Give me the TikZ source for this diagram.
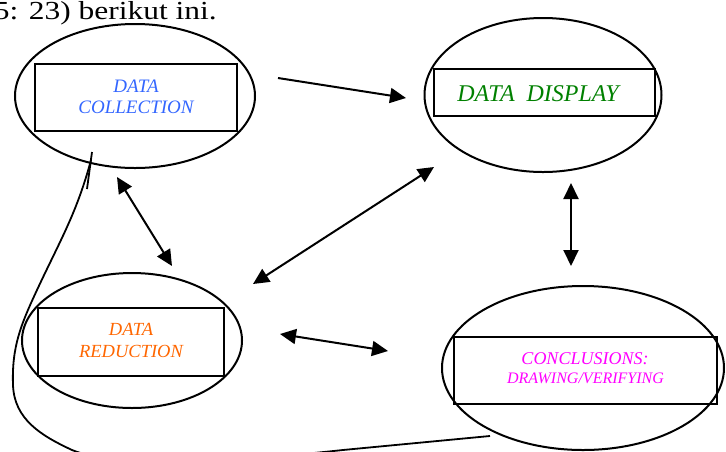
\documentclass[tikz,border=0pt]{standalone}
\usepackage{fontspec}
\setmainfont{Liberation Serif}
\usetikzlibrary{arrows.meta,shapes.geometric}
\definecolor{cblue}{RGB}{51,102,255}
\definecolor{cgreen}{RGB}{0,128,0}
\definecolor{corange}{RGB}{255,102,0}
\definecolor{cmag}{RGB}{255,0,255}
\tikzset{
  oval/.style={draw, ellipse, line width=2pt, inner sep=0pt},
  rbox/.style={draw, rectangle, line width=2.5pt, inner sep=0pt},
  conn/.style={line width=2pt, -{Triangle[length=16pt,width=15pt]}},
  dconn/.style={line width=2pt, {Triangle[length=16pt,width=15pt]}-{Triangle[length=16pt,width=15pt]}},
  lbl/.style={anchor=base, inner sep=0pt},
  loop/.style={line width=1.8pt}
}
\begin{document}
\begin{tikzpicture}[x=1pt,y=-1pt]
\useasboundingbox (0,0) rectangle (726,451);
\clip (0,0) rectangle (726,451);

% top text (cut at the left edge, as in the reference)
\node[anchor=base east, inner sep=0pt, font=\fontsize{26}{30}\selectfont] (cite) at (217,19) {\scalebox{1.21}[1]{5: 23) berikut ini.}};

% ellipses
\node[oval, minimum width=240pt, minimum height=144pt] (collE) at (135,96) {};
\node[oval, minimum width=237pt, minimum height=154pt] (dispE) at (543,95) {};
\node[oval, minimum width=220pt, minimum height=135pt] (redE) at (132,340.5) {};
\node[oval, minimum width=282pt, minimum height=164pt] (concE) at (583,368) {};

% rectangles
\node[rbox, minimum width=202pt, minimum height=67pt] (collR) at (136,97.5) {};
\node[rbox, minimum width=221pt, minimum height=47pt] (dispR) at (544.5,92.5) {};
\node[rbox, minimum width=186pt, minimum height=68pt] (redR) at (131,342) {};
\node[rbox, minimum width=263pt, minimum height=67pt] (concR) at (585.5,370.5) {};

% labels
\node[lbl, text=cblue, font=\itshape\fontsize{19}{21}\selectfont] (collT1) at (136,92.3) {DATA};
\node[lbl, text=cblue, font=\itshape\fontsize{19}{21}\selectfont] (collT2) at (136,113.3) {COLLECTION};
\node[lbl, text=cgreen, font=\itshape\fontsize{24}{28}\selectfont] (dispT) at (538,101.7) {DATA\ \ DISPLAY};
\node[lbl, text=corange, font=\itshape\fontsize{18.5}{21}\selectfont] (redT1) at (131,335) {DATA};
\node[lbl, text=corange, font=\itshape\fontsize{18.5}{21}\selectfont] (redT2) at (131,357) {REDUCTION};
\node[lbl, text=cmag, font=\itshape\fontsize{18}{21}\selectfont] (concT1) at (585,364) {CONCLUSIONS:};
\node[lbl, text=cmag, font=\itshape\fontsize{16}{19}\selectfont] (concT2) at (585.5,383) {DRAWING/VERIFYING};

% arrow end points
\coordinate (a1s) at (278,78);  \coordinate (a1e) at (406,98);
\coordinate (a2s) at (117,177); \coordinate (a2e) at (172,266);
\coordinate (a3s) at (253,284); \coordinate (a3e) at (434,167);
\coordinate (a4s) at (571,183); \coordinate (a4e) at (571,266);
\coordinate (a5s) at (280,334); \coordinate (a5e) at (388,351);

\draw[conn] (a1s) -- (a1e);
\draw[dconn] (a2s) -- (a2e);
\draw[dconn] (a3s) -- (a3e);
\draw[dconn] (a4s) -- (a4e);
\draw[dconn] (a5s) -- (a5e);

% hand-drawn loop
\coordinate (l0) at (92,152); \coordinate (l1) at (87,189);
\coordinate (m0) at (91,160); \coordinate (m1) at (37,290);
\coordinate (m2) at (13,385); \coordinate (m3) at (72,450);
\coordinate (m4) at (343,450); \coordinate (m5) at (490,436);
\draw[loop] (l0) -- (l1);
\draw[loop] (m0) to[out=-105,in=65] (m1) to[out=-115,in=92] (m2)
  to[out=-88,in=155] (m3) .. controls (120,470) and (250,460) .. (m4) -- (m5);
\end{tikzpicture}
\end{document}
